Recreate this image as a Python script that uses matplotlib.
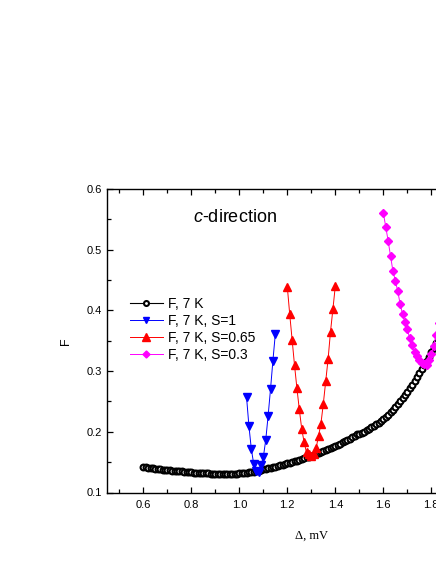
import matplotlib
matplotlib.use("Agg")
import matplotlib.pyplot as plt
from matplotlib.ticker import MultipleLocator

plt.rcParams['font.family'] = ['Liberation Sans', 'DejaVu Sans']
plt.rcParams['mathtext.fontset'] = 'custom'
plt.rcParams['mathtext.rm'] = 'Liberation Sans'
plt.rcParams['mathtext.it'] = 'Liberation Sans:italic'

# ---- data ----
black_x = [0.60, 0.61, 0.62, 0.63, 0.64, 0.65, 0.66, 0.67, 0.68, 0.69,
           0.70, 0.71, 0.72, 0.73, 0.74, 0.75, 0.76, 0.77, 0.78, 0.79,
           0.80, 0.81, 0.82, 0.83, 0.84, 0.85, 0.86, 0.87, 0.88, 0.89,
           0.90, 0.91, 0.92, 0.93, 0.94, 0.95, 0.96, 0.97, 0.98, 0.99,
           1.00, 1.01, 1.02, 1.03, 1.04, 1.05, 1.06, 1.07, 1.08, 1.09,
           1.10, 1.11, 1.12, 1.13, 1.14, 1.15, 1.16, 1.17, 1.18, 1.19,
           1.20, 1.21, 1.22, 1.23, 1.24, 1.25, 1.26, 1.27, 1.28, 1.29,
           1.30, 1.31, 1.32, 1.33, 1.34, 1.35, 1.36, 1.37, 1.38, 1.39,
           1.40, 1.41, 1.42, 1.43, 1.44, 1.45, 1.46, 1.47, 1.48, 1.49,
           1.50, 1.51, 1.52, 1.53, 1.54, 1.55, 1.56, 1.57, 1.58, 1.59,
           1.60, 1.61, 1.62, 1.63, 1.64, 1.65, 1.66, 1.67, 1.68, 1.69,
           1.70, 1.71, 1.72, 1.73, 1.74, 1.75, 1.76, 1.77, 1.78, 1.79,
           1.80, 1.81, 1.82, 1.83, 1.84]
black_y = [0.1420, 0.1414, 0.1408, 0.1402, 0.1397, 0.1392, 0.1387, 0.1382, 0.1378, 0.1374,
           0.1370, 0.1366, 0.1362, 0.1358, 0.1354, 0.1350, 0.1346, 0.1342, 0.1338, 0.1334,
           0.1331, 0.1328, 0.1325, 0.1322, 0.1320, 0.1318, 0.1316, 0.1314, 0.1312, 0.1311,
           0.1310, 0.1309, 0.1308, 0.1307, 0.1307, 0.1307, 0.1308, 0.1309, 0.1310, 0.1312,
           0.1314, 0.1318, 0.1322, 0.1327, 0.1332, 0.1338, 0.1344, 0.1352, 0.1359, 0.1366,
           0.1380, 0.1388, 0.1397, 0.1406, 0.1415, 0.1425, 0.1435, 0.1445, 0.1456, 0.1467,
           0.1478, 0.1489, 0.1501, 0.1513, 0.1525, 0.1538, 0.1551, 0.1564, 0.1578, 0.1592,
           0.1606, 0.1621, 0.1636, 0.1651, 0.1667, 0.1683, 0.1699, 0.1716, 0.1733, 0.1751,
           0.1769, 0.1788, 0.1807, 0.1827, 0.1847, 0.1868, 0.1889, 0.1911, 0.1933, 0.1956,
           0.1960, 0.1982, 0.2004, 0.2027, 0.2050, 0.2074, 0.2098, 0.2123, 0.2149, 0.2176,
           0.2211, 0.2247, 0.2285, 0.2325, 0.2367, 0.2411, 0.2457, 0.2505, 0.2555, 0.2607,
           0.2661, 0.2717, 0.2775, 0.2835, 0.2897, 0.2961, 0.3027, 0.3095, 0.3165, 0.3237,
           0.3311, 0.3387, 0.3465, 0.3545, 0.3627]

blue_x = [1.03, 1.04, 1.05, 1.06, 1.07, 1.08, 1.09, 1.10, 1.11, 1.12, 1.13, 1.14, 1.15]
blue_y = [0.258, 0.210, 0.172, 0.147, 0.136, 0.134, 0.145, 0.158, 0.186, 0.226, 0.270, 0.317, 0.361]

red_x = [1.20, 1.21, 1.22, 1.23, 1.24, 1.25, 1.26, 1.27, 1.28, 1.29, 1.30,
         1.31, 1.32, 1.33, 1.34, 1.35, 1.36, 1.37, 1.38, 1.39, 1.40]
red_y = [0.439, 0.394, 0.352, 0.310, 0.272, 0.237, 0.205, 0.183, 0.166, 0.163, 0.160,
         0.164, 0.173, 0.193, 0.213, 0.246, 0.283, 0.320, 0.365, 0.402, 0.440]

mag_x = [1.60, 1.61, 1.62, 1.63, 1.64, 1.65, 1.66, 1.67, 1.68, 1.69,
         1.70, 1.71, 1.72, 1.73, 1.74, 1.75, 1.76, 1.77, 1.78,
         1.79, 1.80, 1.81, 1.82, 1.83, 1.84]
mag_y = [0.561, 0.538, 0.515, 0.490, 0.465, 0.449, 0.432, 0.411, 0.394, 0.381,
         0.369, 0.354, 0.343, 0.332, 0.325, 0.319, 0.314, 0.311, 0.310,
         0.318, 0.328, 0.342, 0.360, 0.380, 0.402]

labels = ['F, 7 K', 'F, 7 K, S=1', 'F, 7 K, S=0.65', 'F, 7 K, S=0.3']

# ---- figure ----
W, H = 436, 564
fig = plt.figure(figsize=(W / 100, H / 100), dpi=100)
x_left_px, x_min, x_max, px_per_unit = 107.3, 0.45, 2.15, 240.0
ax_w_px = (x_max - x_min) * px_per_unit
ax = fig.add_axes([x_left_px / W, (H - 492.5) / H, ax_w_px / W, (492.5 - 189) / H])

ax.plot(black_x, black_y, color='black', lw=0.8, marker='o', ms=4.2,
        mfc='white', mec='black', mew=1.5, label=labels[0], zorder=3)
ax.plot(blue_x, blue_y, color='#0000FF', lw=0.7, marker='v', ms=5.6,
        mfc='#0000FF', mec='#0000FF', label=labels[1], zorder=4)
ax.plot(red_x, red_y, color='#FF0000', lw=0.7, marker='^', ms=6.0,
        mfc='#FF0000', mec='#FF0000', label=labels[2], zorder=4)
ax.plot(mag_x, mag_y, color='#FF00FF', lw=0.7, marker='D', ms=4.2,
        mfc='#FF00FF', mec='#FF00FF', label=labels[3], zorder=4)

ax.set_xlim(x_min, x_max)
ax.set_ylim(0.1, 0.6)
ax.xaxis.set_major_locator(MultipleLocator(0.2))
ax.xaxis.set_minor_locator(MultipleLocator(0.1))
ax.yaxis.set_major_locator(MultipleLocator(0.1))
ax.yaxis.set_minor_locator(MultipleLocator(0.05))
ax.xaxis.set_major_formatter(plt.FuncFormatter(lambda v, p: f'{v:.1f}'))
ax.yaxis.set_major_formatter(plt.FuncFormatter(lambda v, p: f'{v:.1f}'))

ax.tick_params(which='both', direction='in', top=True, right=True, width=0.9,
               labelsize=8, colors='black')
ax.tick_params(which='major', length=4.0)
ax.tick_params(which='minor', length=2.6)
ax.tick_params(axis='x', pad=5.5)
ax.tick_params(axis='y', pad=4)
for s in ax.spines.values():
    s.set_linewidth(1.0)

ax.set_xlabel('Δ, mV', family=['Liberation Serif', 'DejaVu Serif'], fontsize=9, labelpad=14)
ax.set_ylabel('F', fontsize=9, labelpad=10)

ax.text(0.807, 0.553, r'$\mathit{c}$-direction', fontsize=13, ha='left', va='center')

leg = ax.legend(loc='upper left', bbox_to_anchor=(130 / W, 1 - 297 / H),
                bbox_transform=fig.transFigure, frameon=False, fontsize=10,
                handlelength=2.35, handletextpad=0.35, labelspacing=0.22,
                borderpad=0, borderaxespad=0, markerscale=0.85)

fig.savefig('out.png', dpi=100)
